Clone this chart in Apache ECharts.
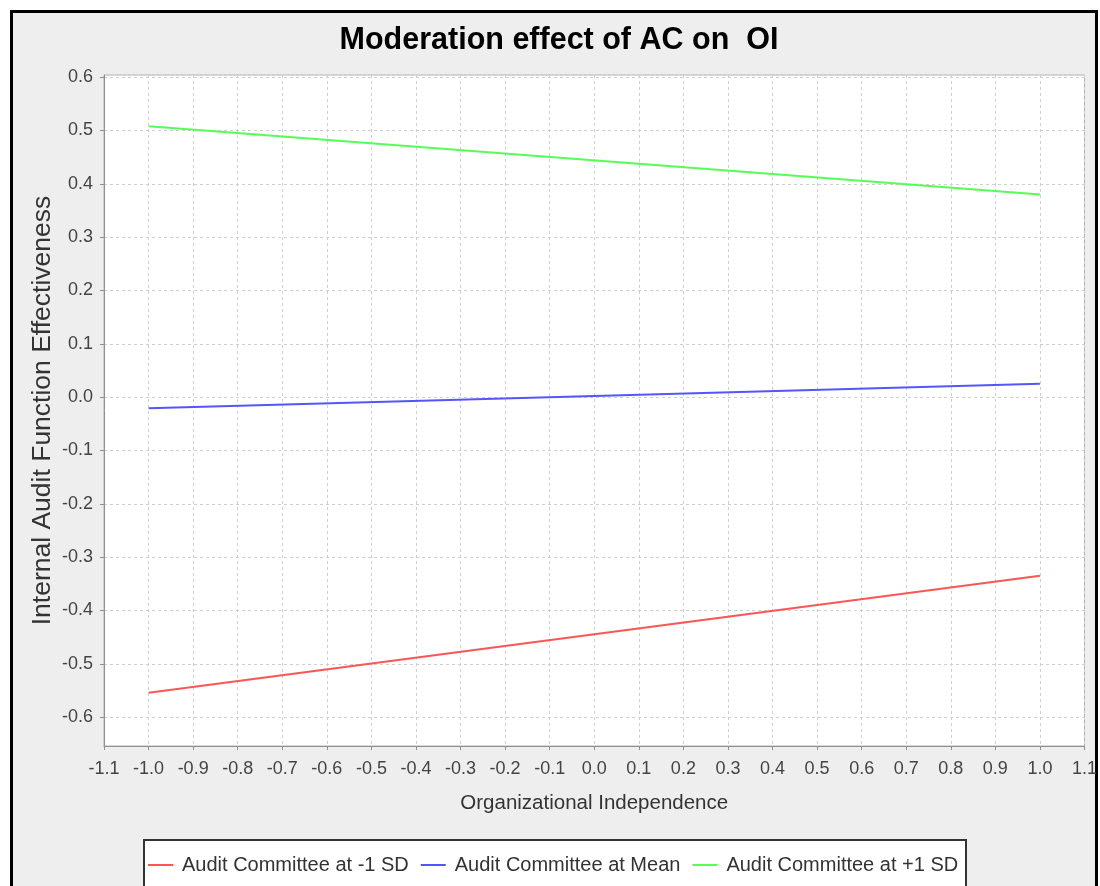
<!DOCTYPE html>
<html>
<head>
<meta charset="utf-8">
<script src="https://cdn.jsdelivr.net/npm/echarts@6/dist/echarts.min.js"></script>
<style>
html,body{margin:0;padding:0;background:#ffffff;}
#chart{width:1100px;height:886px;}
</style>
</head>
<body>
<div id="chart"></div>
<script>
// ---- data ----
const xValues = [-1.0, 1.0];
const seriesNames = ['Audit Committee at -1 SD', 'Audit Committee at Mean', 'Audit Committee at +1 SD'];
const lowSD  = [-0.554, -0.335];
const meanAC = [-0.021, 0.025];
const highSD = [0.508, 0.380];
const yTicks = [-0.6, -0.5, -0.4, -0.3, -0.2, -0.1, 0.0, 0.1, 0.2, 0.3, 0.4, 0.5, 0.6];
const titleText = 'Moderation effect of AC on  OI';
const xName = 'Organizational Independence';
const yName = 'Internal Audit Function Effectiveness';

const colors = ['#ff5555', '#5555ff', '#55ff55'];
const regular = "'Liberation Sans', Arial, sans-serif";

function pairs(ys) { return xValues.map((x, i) => [x, ys[i]]); }

const chart = echarts.init(document.getElementById('chart'), null, {renderer: 'canvas'});
chart.setOption({
  backgroundColor: '#ffffff',
  animation: false,
  graphic: [
    { type: 'rect', z: -10, silent: true,
      shape: { x: 11.5, y: 11.5, width: 1085, height: 900 },
      style: { fill: '#eeeeee', stroke: '#000000', lineWidth: 3 } },
    { type: 'rect', z: -5, silent: true,
      shape: { x: 144, y: 840, width: 822, height: 80 },
      style: { fill: '#ffffff', stroke: '#333333', lineWidth: 2 } }
  ],
  title: {
    text: titleText,
    left: 554, textAlign: 'center', top: 20,
    textStyle: { fontFamily: regular, fontWeight: 'bold', fontSize: 30.5, color: '#000000' }
  },
  legend: {
    left: 148, top: 853, width: 900,
    icon: 'rect',
    itemWidth: 25, itemHeight: 2, itemGap: 12,
    padding: 0,
    textStyle: { fontFamily: regular, fontSize: 20, color: '#333333', lineHeight: 24, padding: [0, 0, 0, 4] },
    data: seriesNames
  },
  grid: {
    left: 104, top: 75, right: 15, bottom: 140,
    show: true, backgroundColor: '#ffffff', borderColor: '#b0b0b0', borderWidth: 1,
    containLabel: false
  },
  xAxis: {
    type: 'value', min: -1.1, max: 1.1, interval: 0.1,
    name: xName, nameLocation: 'middle', nameGap: 47,
    nameTextStyle: { fontFamily: regular, fontSize: 20.5, color: '#333333' },
    axisLine: { show: true, onZero: false, lineStyle: { color: '#909090', width: 1 } },
    axisTick: { show: true, length: 4, lineStyle: { color: '#909090' } },
    axisLabel: { margin: 14, fontFamily: regular, fontSize: 18, color: '#444444',
      formatter: v => (Math.abs(v) < 1e-9 ? 0 : v).toFixed(1), showMinLabel: true, showMaxLabel: true },
    splitLine: { show: true, lineStyle: { color: '#cfcfcf', type: [3, 3], width: 1 } }
  },
  yAxis: {
    type: 'value', min: -0.654, max: 0.604,
    name: yName, nameLocation: 'middle', nameGap: 48, nameRotate: 90, nameMoveOverlap: false,
    nameTextStyle: { fontFamily: regular, fontSize: 26.5, color: '#333333' },
    axisLine: { show: true, onZero: false, lineStyle: { color: '#909090', width: 1 } },
    axisTick: { show: true, length: 4, lineStyle: { color: '#909090' }, customValues: yTicks },
    axisLabel: { margin: 11, fontFamily: regular, fontSize: 18, color: '#444444', customValues: yTicks,
      formatter: v => (Math.abs(v) < 1e-9 ? 0 : v).toFixed(1) },
    splitLine: { show: true, lineStyle: { color: '#cfcfcf', type: [3, 3], width: 1 } }
  },
  series: [
    { name: seriesNames[0], type: 'line', data: pairs(lowSD), symbol: 'none',
      lineStyle: { color: colors[0], width: 2 }, itemStyle: { color: colors[0] } },
    { name: seriesNames[1], type: 'line', data: pairs(meanAC), symbol: 'none',
      lineStyle: { color: colors[1], width: 2 }, itemStyle: { color: colors[1] } },
    { name: seriesNames[2], type: 'line', data: pairs(highSD), symbol: 'none',
      lineStyle: { color: colors[2], width: 2 }, itemStyle: { color: colors[2] } }
  ]
});
</script>
</body>
</html>
